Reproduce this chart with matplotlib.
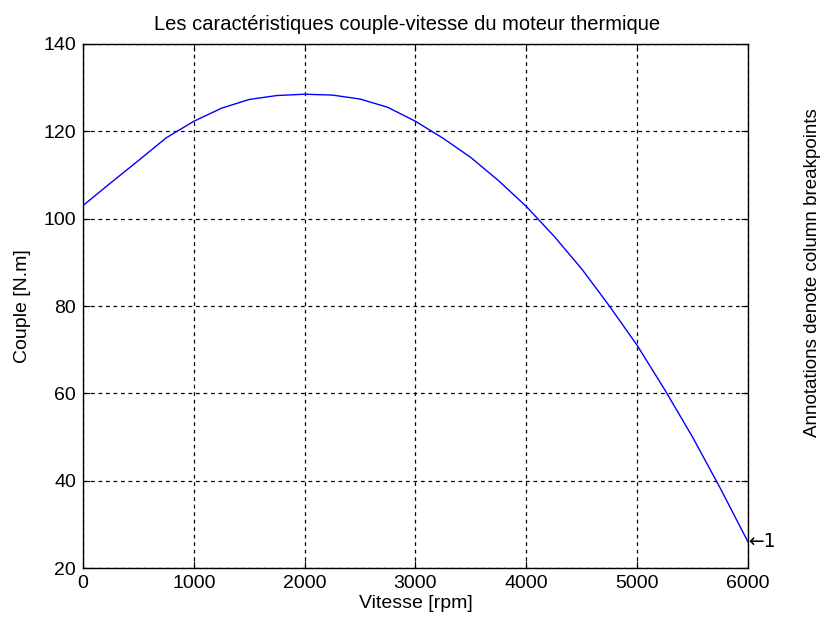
import matplotlib
matplotlib.use("Agg")
import matplotlib.pyplot as plt

plt.rcParams['font.family'] = ['Liberation Sans', 'DejaVu Sans']

speed = [0, 250, 500, 750, 1000, 1250, 1500, 1750, 2000, 2250, 2500, 2750, 3000,
         3250, 3500, 3750, 4000, 4250, 4500, 4750, 5000, 5250, 5500, 5750, 6000]
torque = [103, 108.2, 113.3, 118.5, 122.3, 125.3, 127.3, 128.2, 128.5, 128.3, 127.4, 125.5, 122.3,
          118.4, 114, 108.7, 102.8, 96, 88.5, 80, 71, 60.8, 50, 38.3, 26]
xticks = [0, 1000, 2000, 3000, 4000, 5000, 6000]
yticks = [20, 40, 60, 80, 100, 120, 140]

fs = 14
fig = plt.figure(figsize=(8.21, 6.24), dpi=100)
ax = fig.add_axes([0.1011, 0.0897, 0.8099, 0.8398])
ax.plot(speed, torque, color='#0000ff', lw=1.0)
ax.set_xlim(0, 6000)
ax.set_ylim(20, 140)
ax.set_xticks(xticks)
ax.set_yticks(yticks)
ax.grid(True, color='black', linestyle=(0, (3, 3)), linewidth=0.9)
ax.tick_params(direction='in', top=True, right=True, length=5, labelsize=fs, pad=5)
for s in ax.spines.values():
    s.set_linewidth(1.0)
ax.set_xlabel('Vitesse [rpm]', fontsize=fs, labelpad=2)
ax.set_ylabel('Couple [N.m]', fontsize=fs, labelpad=9)
ax.set_title('Les caractéristiques couple-vitesse du moteur thermique', fontsize=14.5,
             pad=10, x=0.487)
ax.text(speed[-1], torque[-1], '\u2190' + '1', fontsize=13.5, ha='left', va='center',
        family=['DejaVu Sans'], clip_on=False)
fig.text(0.99, 0.563, 'Annotations denote column breakpoints', rotation=90,
         fontsize=13.5, ha='center', va='center')
fig.savefig('out.png', dpi=100)
